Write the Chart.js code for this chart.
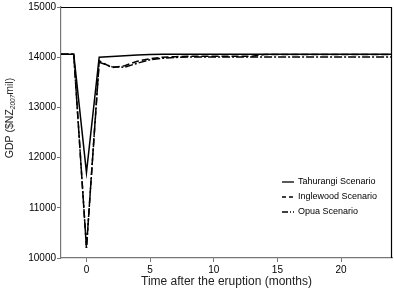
<!DOCTYPE html>
<html lang="en">
<head>
<meta charset="UTF-8">
<title>GDP after the eruption</title>
<script src="https://cdn.jsdelivr.net/npm/chart.js"></script>
<style>
  html, body { margin: 0; padding: 0; background: #fff; }
  #wrap { width: 394px; height: 290px; }
</style>
</head>
<body>
<div id="wrap"><canvas id="gdpChart" width="394" height="290"></canvas></div>
<script>
// months after the eruption
var meses = [-2, -1, 0, 1, 2, 3, 4, 5, 6, 7, 8, 9, 10, 11, 12, 13, 14, 15, 16, 17, 18, 19, 20, 21, 22, 23, 24];

// GDP ($NZ2007 mil)
var tahurangi = [14060, 14060, 11700, 14000, 14015, 14030, 14045, 14055, 14060, 14060, 14060, 14060, 14060, 14060, 14060, 14060, 14060, 14060, 14060, 14060, 14060, 14060, 14060, 14060, 14060, 14060, 14060];
var inglewood = [14060, 14060, 10200, 13930, 13790, 13830, 13920, 13970, 14000, 14010, 14020, 14020, 14020, 14020, 14020, 14020, 14055, 14055, 14055, 14055, 14055, 14055, 14055, 14055, 14055, 14055, 14055];
var opua      = [14060, 14060, 10200, 13900, 13810, 13800, 13880, 13950, 13980, 13995, 14005, 14005, 14005, 14005, 14005, 14005, 14005, 14005, 14005, 14005, 14005, 14005, 14005, 14005, 14005, 14005, 14005];

var etiquetas = ['Tahurangi Scenario', 'Inglewood Scenario', 'Opua Scenario'];
var xTicks = [0, 5, 10, 15, 20];
var yTicks = [10000, 11000, 12000, 13000, 14000, 15000];

function puntos(ys) {
    return meses.map(function (m, i) { return { x: m, y: ys[i] }; });
}

var FONT = '"Liberation Sans", Arial, sans-serif';
var dashes = [[], [7, 3], [8, 2, 2, 2]];
var legendDashes = [[], [4, 3], [6, 2, 1, 2]];

// ejes extra, titulos y leyenda
var decoraciones = {
    id: 'decoraciones',
    afterDraw: function (chart) {
        var ctx = chart.ctx;
        var a = chart.chartArea;
        ctx.save();
        // top and right frame
        ctx.strokeStyle = '#000';
        ctx.lineWidth = 1.2;
        ctx.beginPath();
        ctx.moveTo(a.left, a.top + 0.5);
        ctx.lineTo(a.right - 0.5, a.top + 0.5);
        ctx.lineTo(a.right - 0.5, a.bottom);
        ctx.stroke();

        // x title
        ctx.fillStyle = '#222';
        ctx.font = '12px ' + FONT;
        ctx.textAlign = 'center';
        ctx.textBaseline = 'middle';
        ctx.fillText('Time after the eruption (months)', (a.left + a.right) / 2, 282);

        // y title with subscript
        ctx.translate(9, 118);
        ctx.rotate(-Math.PI / 2);
        var p1 = 'GDP ($NZ', p2 = '2007', p3 = 'mil)';
        ctx.font = '10.5px ' + FONT;
        var w1 = ctx.measureText(p1).width, w3 = ctx.measureText(p3).width;
        ctx.font = 'italic 6.5px ' + FONT;
        var w2 = ctx.measureText(p2).width;
        var x0 = -(w1 + w2 + w3) / 2;
        ctx.textAlign = 'left';
        ctx.textBaseline = 'alphabetic';
        ctx.font = '10.5px ' + FONT;
        ctx.fillText(p1, x0, 4);
        ctx.font = 'italic 6.5px ' + FONT;
        ctx.fillText(p2, x0 + w1, 6);
        ctx.font = '10.5px ' + FONT;
        ctx.fillText(p3, x0 + w1 + w2, 4);
        ctx.restore();

        // legend
        ctx.save();
        ctx.font = '9px ' + FONT;
        ctx.fillStyle = '#000';
        ctx.textBaseline = 'middle';
        ctx.textAlign = 'left';
        chart.data.datasets.forEach(function (ds, i) {
            var y = 182 + i * 15;
            ctx.strokeStyle = '#000';
            ctx.lineWidth = 1.3;
            ctx.setLineDash(legendDashes[i]);
            ctx.beginPath();
            ctx.moveTo(282, y);
            ctx.lineTo(294, y);
            ctx.stroke();
            ctx.setLineDash([]);
            ctx.fillText(ds.label, 298, y);
        });
        ctx.restore();
    }
};

var ctxGDP = document.getElementById('gdpChart').getContext('2d');
var gdpChart = new Chart(ctxGDP, {
    type: 'line',
    data: {
        datasets: [tahurangi, inglewood, opua].map(function (serie, i) {
            return {
                label: etiquetas[i],
                data: puntos(serie),
                borderColor: '#000',
                borderWidth: 1.5,
                borderDash: dashes[i],
                pointRadius: 0,
                tension: 0,
                fill: false
            };
        })
    },
    options: {
        responsive: false,
        animation: false,
        layout: { padding: { left: 0, right: 2, top: 5, bottom: 0 } },
        plugins: {
            legend: { display: false },
            tooltip: { enabled: false }
        },
        scales: {
            x: {
                type: 'linear',
                min: -2,
                max: 24,
                afterBuildTicks: function (s) { s.ticks = xTicks.map(function (v) { return { value: v }; }); },
                afterFit: function (s) { s.height = 32; },
                grid: { display: true, drawOnChartArea: false, drawTicks: true, tickLength: 4, color: '#777' },
                border: { color: '#777', width: 1.2 },
                ticks: { color: '#000', padding: 2, maxRotation: 0, font: { family: FONT, size: 10 } }
            },
            y: {
                min: 10000,
                max: 15000,
                afterBuildTicks: function (s) { s.ticks = yTicks.map(function (v) { return { value: v }; }); },
                afterFit: function (s) { s.width = 61; },
                grid: { display: true, drawOnChartArea: false, drawTicks: true, tickLength: 4, color: '#777' },
                border: { color: '#777', width: 1.2 },
                ticks: { color: '#000', padding: 1, font: { family: FONT, size: 10 }, callback: function (v) { return v; } }
            }
        }
    },
    plugins: [decoraciones]
});
</script>
</body>
</html>
